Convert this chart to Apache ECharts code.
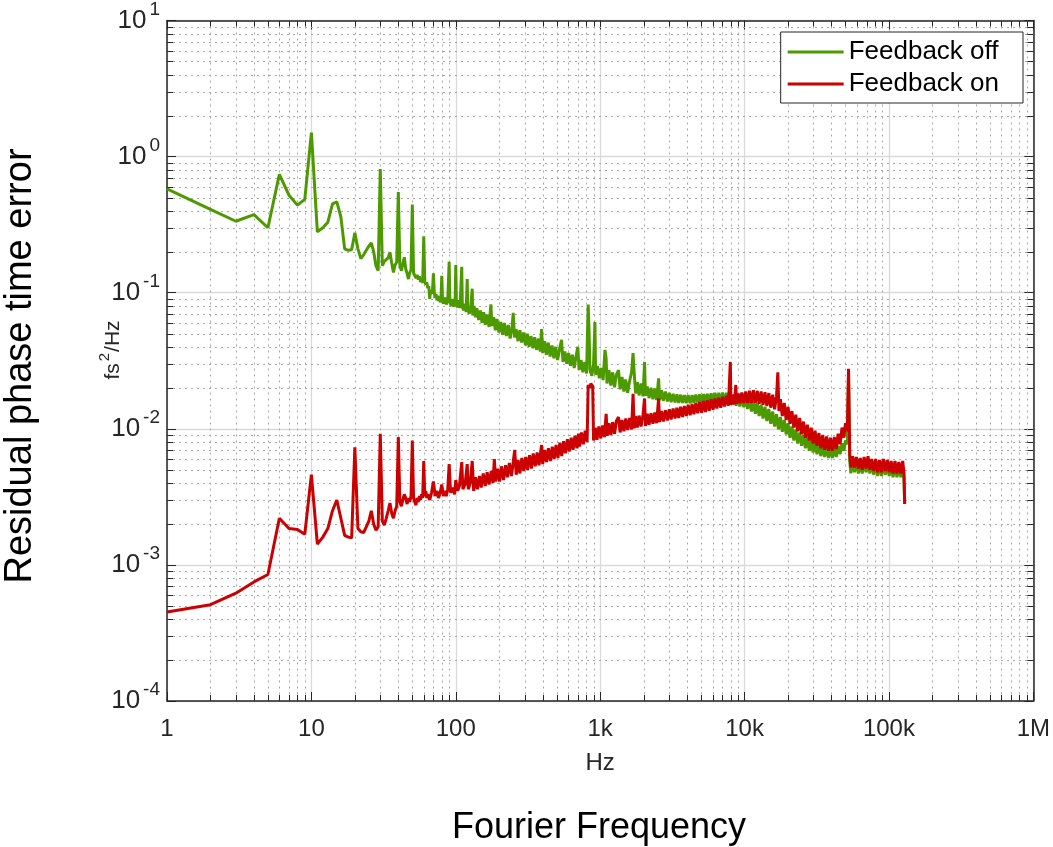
<!DOCTYPE html>
<html>
<head>
<meta charset="utf-8">
<script src="https://cdn.jsdelivr.net/npm/echarts@6/dist/echarts.min.js"></script>
<style>html,body{margin:0;padding:0;background:#fff}#c{width:1053px;height:847px}</style>
</head>
<body>
<div id="c"></div>
<script>
// ---- data ----
const seriesNames = ['Feedback off', 'Feedback on'];
const xTickLabels = {1:'1',10:'10',100:'100',1000:'1k',10000:'10k',100000:'100k',1000000:'1M'};
const feedbackOff = [[1,0.58],[2,0.41],[3,0.335],[4,0.375],[5,0.30],[6,0.74],[7,0.52],[8,0.44],[9,0.485],[10,1.50],[11,0.28],[12,0.30],[13,0.33],[14,0.45],[15,0.465],[16,0.36],[17,0.21],[18,0.205],[19,0.207],[20,0.275],[21,0.21],[22,0.178],[23,0.19],[24,0.205],[25,0.22],[26,0.232],[27,0.2],[28,0.158],[29,0.145],[30,0.81],[31,0.158],[32,0.17],[33,0.165],[34,0.18],[35,0.198],[36,0.165],[37,0.141],[38,0.16],[39,0.168],[40,0.55],[41,0.16],[42,0.145],[43,0.162],[44,0.182],[45,0.15],[46,0.138],[47,0.126],[48,0.14],[49,0.148],[50,0.445],[51,0.14],[52,0.137],[53,0.128],[54,0.135],[55,0.125],[56,0.132],[57,0.12],[58,0.126],[59,0.118],[60,0.26],[61,0.12],[62,0.115],[63,0.119],[64,0.108],[65,0.112],[66,0.09],[67,0.105],[68,0.098],[69,0.104],[70,0.139],[71,0.1],[72,0.092],[73,0.098],[74,0.088],[75,0.095],[76,0.087],[77,0.094],[78,0.085],[79,0.09],[80,0.133],[81,0.088],[82,0.083],[84,0.092],[86,0.082],[88,0.088],[90,0.169],[91,0.085],[93,0.08],[95,0.09],[97,0.079],[99,0.086],[100,0.16],[101,0.083],[103,0.078],[105,0.088],[107,0.077],[110,0.155],[111,0.08],[113,0.074],[116,0.083],[118,0.072],[120,0.126],[121,0.076],[124,0.07],[127,0.079],[130,0.107],[131,0.068],[134,0.080],[137,0.066],[140,0.077],[144,0.063],[148,0.074],[152,0.060],[156,0.072],[160,0.058],[165,0.069],[170,0.056],[175,0.082],[178,0.057],[183,0.066],[188,0.053],[193,0.064],[199,0.051],[205,0.061],[211,0.049],[217,0.060],[224,0.048],[231,0.058],[238,0.046],[245,0.055],[250,0.071],[255,0.047],[262,0.054],[270,0.044],[278,0.053],[286,0.043],[295,0.051],[304,0.041],[313,0.050],[322,0.040],[332,0.048],[342,0.039],[352,0.047],[363,0.038],[374,0.046],[385,0.037],[393,0.054],[400,0.036],[412,0.044],[424,0.035],[437,0.043],[450,0.034],[464,0.041],[478,0.033],[492,0.040],[507,0.032],[522,0.038],[540,0.045],[553,0.031],[570,0.037],[587,0.030],[605,0.036],[623,0.029],[642,0.035],[661,0.028],[681,0.034],[700,0.040],[715,0.027],[737,0.032],[759,0.026],[782,0.031],[805,0.0255],[826,0.082],[838,0.052],[850,0.027],[875,0.0245],[900,0.030],[920,0.061],[930,0.025],[958,0.029],[987,0.0235],[1017,0.028],[1048,0.0228],[1080,0.038],[1100,0.033],[1115,0.0215],[1150,0.027],[1185,0.0208],[1220,0.026],[1257,0.0202],[1295,0.025],[1340,0.027],[1375,0.0195],[1417,0.024],[1460,0.0188],[1500,0.023],[1550,0.0184],[1600,0.0225],[1650,0.026],[1690,0.036],[1720,0.026],[1760,0.0182],[1810,0.022],[1860,0.0176],[1920,0.0215],[1980,0.0173],[2030,0.031],[2060,0.0175],[2120,0.0205],[2180,0.0168],[2250,0.020],[2320,0.0165],[2390,0.0198],[2460,0.0163],[2540,0.0235],[2580,0.0162],[2660,0.0192],[2740,0.0161],[2830,0.0188],[2920,0.0159],[3010,0.0184],[3100,0.0157],[3200,0.0181],[3300,0.0156],[3400,0.0179],[3500,0.0155],[3610,0.0178],[3720,0.0155],[3830,0.0177],[3950,0.0154],[4070,0.0177],[4200,0.0154],[4330,0.0177],[4460,0.0155],[4600,0.0178],[4740,0.0156],[4890,0.0179],[5040,0.0156],[5200,0.018],[5360,0.0157],[5520,0.0181],[5690,0.0157],[5870,0.0182],[6050,0.0158],[6240,0.0184],[6430,0.0158],[6630,0.0184],[6840,0.0158],[7050,0.0185],[7270,0.0156],[7500,0.0184],[7730,0.0154],[7970,0.0182],[8220,0.0151],[8480,0.0179],[8740,0.0148],[9010,0.0176],[9290,0.0146],[9580,0.0173],[9880,0.0144],[10190,0.0168],[10500,0.014],[10830,0.0164],[11170,0.0134],[11520,0.016],[11880,0.0129],[12250,0.0155],[12630,0.0124],[13020,0.015],[13430,0.0119],[13850,0.0145],[14280,0.0114],[14730,0.014],[15190,0.0109],[15660,0.0134],[16150,0.0104],[16650,0.0128],[17170,0.0099],[17710,0.0122],[18260,0.0095],[18830,0.0116],[19420,0.0091],[20020,0.011],[20650,0.0086],[21290,0.0104],[21950,0.0082],[22640,0.0099],[23340,0.0078],[24070,0.0094],[24820,0.0075],[25600,0.009],[26400,0.0072],[27220,0.0086],[28070,0.0069],[28950,0.0083],[29850,0.0067],[30780,0.008],[31740,0.0065],[32730,0.0077],[33750,0.0063],[34800,0.0075],[35890,0.0062],[37010,0.0073],[38160,0.0061],[39350,0.0072],[40580,0.0061],[41840,0.0073],[43150,0.0062],[44490,0.0075],[45880,0.0065],[47310,0.0078],[48790,0.0069],[50000,0.0082],[51500,0.0077],[52500,0.025],[53500,0.0058],[54500,0.0047],[56000,0.006],[57700,0.0048],[59500,0.0058],[61400,0.0047],[63300,0.0057],[65300,0.0047],[67300,0.0058],[69400,0.0048],[71600,0.0059],[73800,0.0047],[76100,0.0056],[78500,0.0046],[81000,0.0056],[83500,0.0045],[86100,0.0055],[88800,0.0045],[91600,0.0056],[94400,0.0046],[97400,0.0055],[100400,0.0045],[103500,0.0054],[106800,0.0044],[110100,0.0054],[113600,0.0044],[117100,0.0053],[120800,0.0044],[124500,0.0052],[127000,0.0045],[128500,0.0028]];
const feedbackOn = [[1,4.5e-4],[2,5.1e-4],[3,6.2e-4],[4,7.5e-4],[5,8.5e-4],[6,2.2e-3],[7,1.85e-3],[8,1.82e-3],[9,1.68e-3],[10,4.6e-3],[11,1.42e-3],[12,1.6e-3],[13,1.85e-3],[14,2.5e-3],[15,3.0e-3],[16,2.2e-3],[17,1.65e-3],[18,1.6e-3],[19,1.58e-3],[20,7.3e-3],[21,1.85e-3],[22,1.75e-3],[23,1.73e-3],[24,1.9e-3],[25,2.1e-3],[26,2.5e-3],[27,2.0e-3],[28,1.8e-3],[29,1.9e-3],[30,9.2e-3],[31,2.1e-3],[32,1.96e-3],[33,2.2e-3],[34,2.5e-3],[35,2.85e-3],[36,2.4e-3],[37,2.2e-3],[38,2.5e-3],[39,2.7e-3],[40,8.7e-3],[41,2.9e-3],[42,2.7e-3],[43,3.0e-3],[44,3.3e-3],[45,3.1e-3],[46,2.8e-3],[47,3.1e-3],[48,2.9e-3],[49,3.2e-3],[50,8.2e-3],[51,3.1e-3],[52,2.9e-3],[53,2.75e-3],[54,3.1e-3],[55,2.9e-3],[56,3.2e-3],[57,3.0e-3],[58,3.3e-3],[59,3.1e-3],[60,5.8e-3],[61,3.2e-3],[62,3.5e-3],[63,3.1e-3],[64,3.3e-3],[66,3.0e-3],[68,3.4e-3],[70,4.1e-3],[72,3.2e-3],[74,3.5e-3],[76,3.1e-3],[78,3.4e-3],[80,3.9e-3],[82,3.2e-3],[84,3.5e-3],[86,3.2e-3],[88,3.6e-3],[90,5.5e-3],[92,3.4e-3],[95,3.7e-3],[98,3.3e-3],[100,4.2e-3],[103,3.5e-3],[106,3.8e-3],[110,5.7e-3],[112,3.6e-3],[116,3.9e-3],[120,5.5e-3],[122,3.6e-3],[126,4.0e-3],[130,5.8e-3],[133,3.5e-3],[137,4.4e-3],[141,3.6e-3],[146,4.5e-3],[150,3.7e-3],[155,4.7e-3],[160,3.8e-3],[165,4.8e-3],[170,3.9e-3],[176,4.9e-3],[181,4.0e-3],[185,6.0e-3],[189,4.1e-3],[195,5.1e-3],[201,4.1e-3],[207,5.3e-3],[214,4.2e-3],[221,5.4e-3],[228,4.4e-3],[235,5.6e-3],[243,4.5e-3],[250,5.7e-3],[256,7.0e-3],[262,4.6e-3],[270,5.9e-3],[278,4.7e-3],[287,6.1e-3],[296,4.9e-3],[305,6.2e-3],[314,5.0e-3],[324,6.4e-3],[334,5.1e-3],[344,6.6e-3],[355,5.3e-3],[366,6.7e-3],[377,5.4e-3],[393,7.6e-3],[400,5.5e-3],[412,7.0e-3],[425,5.7e-3],[438,7.2e-3],[452,5.8e-3],[466,7.4e-3],[480,6.0e-3],[495,7.6e-3],[510,6.1e-3],[526,7.9e-3],[542,6.3e-3],[558,8.1e-3],[575,6.6e-3],[593,8.4e-3],[611,6.8e-3],[630,8.6e-3],[649,7.0e-3],[669,8.9e-3],[690,7.2e-3],[708,9.2e-3],[720,7.4e-3],[742,9.4e-3],[765,7.7e-3],[788,9.7e-3],[812,8.0e-3],[826,0.021],[838,0.0215],[850,0.02],[862,0.0215],[875,0.021],[888,0.0205],[900,8.2e-3],[925,0.0102],[950,8.3e-3],[980,0.0104],[1010,8.5e-3],[1040,0.0106],[1070,8.7e-3],[1100,0.0129],[1120,8.9e-3],[1150,0.011],[1185,9.0e-3],[1220,0.0112],[1257,9.2e-3],[1295,0.0114],[1340,0.0122],[1375,9.4e-3],[1417,0.0116],[1460,9.6e-3],[1505,0.0119],[1550,9.8e-3],[1600,0.012],[1650,9.9e-3],[1690,0.0181],[1720,0.0101],[1760,0.0124],[1810,0.0102],[1860,0.0125],[1920,0.0104],[1980,0.0127],[2030,0.0167],[2060,0.0105],[2120,0.0129],[2180,0.0107],[2250,0.013],[2320,0.0109],[2390,0.0132],[2460,0.011],[2540,0.0167],[2580,0.0112],[2660,0.0135],[2740,0.0113],[2830,0.0137],[2920,0.0115],[3010,0.0139],[3100,0.0117],[3200,0.0141],[3300,0.0119],[3400,0.0143],[3500,0.012],[3610,0.0145],[3720,0.0122],[3830,0.0147],[3950,0.0124],[4070,0.015],[4200,0.0126],[4330,0.0152],[4460,0.0128],[4600,0.0155],[4740,0.013],[4890,0.0158],[5040,0.0131],[5200,0.016],[5360,0.0133],[5520,0.0162],[5690,0.0136],[5870,0.0165],[6050,0.0138],[6240,0.0167],[6430,0.0141],[6630,0.0169],[6840,0.0143],[7050,0.0172],[7270,0.0146],[7500,0.0175],[7730,0.0148],[7970,0.031],[8050,0.015],[8300,0.0178],[8500,0.0151],[8700,0.021],[8800,0.0153],[9050,0.0182],[9300,0.0154],[9580,0.0185],[9880,0.0155],[10190,0.0188],[10500,0.0155],[10830,0.019],[11170,0.0155],[11520,0.0192],[11880,0.0155],[12250,0.019],[12630,0.0153],[13020,0.0188],[13430,0.015],[13850,0.0186],[14280,0.0147],[14730,0.0183],[15190,0.0143],[15660,0.0178],[16150,0.0139],[16650,0.0173],[17000,0.026],[17300,0.0135],[17710,0.0165],[18260,0.0124],[18830,0.0155],[19420,0.0116],[20020,0.0145],[20650,0.0109],[21290,0.0135],[21950,0.0102],[22640,0.0127],[23340,0.0096],[24070,0.012],[24820,0.0091],[25600,0.0113],[26400,0.0086],[27220,0.0107],[28070,0.0082],[28950,0.0102],[29850,0.0078],[30780,0.0097],[31740,0.0075],[32730,0.0093],[33750,0.0072],[34800,0.009],[35890,0.007],[37010,0.0088],[38160,0.0069],[39350,0.0086],[40580,0.0069],[41840,0.0087],[43150,0.0071],[44490,0.0092],[45880,0.0077],[47310,0.0102],[48790,0.0086],[50000,0.011],[51500,0.0096],[52500,0.0276],[53500,0.0065],[54500,0.0052],[56000,0.0063],[57700,0.0052],[59500,0.0062],[61400,0.0051],[63300,0.0061],[65300,0.005],[67300,0.0062],[69400,0.0051],[71600,0.0063],[73800,0.005],[76100,0.006],[78500,0.0049],[81000,0.006],[83500,0.0048],[86100,0.0059],[88800,0.0048],[91600,0.006],[94400,0.0049],[97400,0.0059],[100400,0.0048],[103500,0.0058],[106800,0.0047],[110100,0.0058],[113600,0.0047],[117100,0.0057],[120800,0.0047],[124500,0.0058],[127000,0.0048],[128500,0.0028]];

// minor grid positions (2..9 within each decade)
const minorMultipliers = [2,3,4,5,6,7,8,9];
const minorX = [], minorY = [];
for (let d = 0; d < 6; d++) minorMultipliers.forEach(m => minorX.push([m * Math.pow(10, d), 1]));
for (let d = -4; d < 1; d++) minorMultipliers.forEach(m => minorY.push([1, m * Math.pow(10, d)]));

const FONT = 'Liberation Sans';
const AX = '#262626';
const chart = echarts.init(document.getElementById('c'), null, {renderer: 'canvas'});

const minorStyle = {stroke: '#a8a8a8', lineWidth: 1, lineDash: [2, 4]};
const tickStyle = {stroke: AX, lineWidth: 1};
const TL = 6;

chart.setOption({
  animation: false,
  backgroundColor: '#fff',
  grid: {left: 167, right: 18, top: 15.5, bottom: 146, containLabel: false},
  legend: {
    data: seriesNames,
    orient: 'vertical',
    right: 30, top: 32,
    backgroundColor: '#fff',
    borderColor: AX, borderWidth: 1,
    padding: [6, 24, 5, 7],
    itemGap: 4,
    itemWidth: 56, itemHeight: 3,
    icon: 'rect',
    textStyle: {fontFamily: FONT, fontSize: 26, color: '#000', lineHeight: 28}
  },
  xAxis: [{
    type: 'log', logBase: 10, min: 1, max: 1000000,
    name: 'Hz', nameLocation: 'middle', nameGap: 50,
    nameTextStyle: {fontFamily: FONT, fontSize: 24, color: AX},
    axisLine: {show: true, lineStyle: {color: AX, width: 1.5}},
    axisTick: {show: true, inside: true, length: 9, lineStyle: {color: AX}},
    axisLabel: {fontFamily: FONT, fontSize: 24, color: AX, margin: 16,
      formatter: v => xTickLabels[Math.round(v)] || ''},
    splitLine: {show: true, lineStyle: {color: '#d9d9d9', width: 1.3}},
    minorTick: {show: false}, minorSplitLine: {show: false}
  }, {
    type: 'log', logBase: 10, min: 1, max: 1000000, position: 'top',
    axisLine: {show: true, lineStyle: {color: AX, width: 1.5}},
    axisTick: {show: true, inside: true, length: 9, lineStyle: {color: AX}},
    axisLabel: {show: false}, splitLine: {show: false}
  }],
  yAxis: [{
    type: 'log', logBase: 10, min: 0.0001, max: 10,
    axisLine: {show: true, lineStyle: {color: AX, width: 1.5}},
    axisTick: {show: true, inside: true, length: 9, lineStyle: {color: AX}},
    axisLabel: {margin: 7, color: AX,
      formatter: v => '{b|10}{s|' + Math.round(Math.log10(v)) + '}',
      rich: {
        b: {fontFamily: FONT, fontSize: 26, color: AX, lineHeight: 28},
        s: {fontFamily: FONT, fontSize: 19, color: AX, lineHeight: 19, padding: [0, 0, 22, 3]}
      }},
    splitLine: {show: true, lineStyle: {color: '#d9d9d9', width: 1.3}}
  }, {
    type: 'log', logBase: 10, min: 0.0001, max: 10, position: 'right',
    axisLine: {show: true, lineStyle: {color: AX, width: 1.5}},
    axisTick: {show: true, inside: true, length: 9, lineStyle: {color: AX}},
    axisLabel: {show: false}, splitLine: {show: false}
  }],
  graphic: [{
    type: 'text', x: 21, y: 366, rotation: Math.PI / 2,
    style: {text: 'Residual phase time error', fontFamily: FONT, fontSize: 38, fill: '#000',
      textAlign: 'center', textVerticalAlign: 'middle'}
  }, {
    type: 'text', x: 113, y: 350, rotation: Math.PI / 2,
    style: {text: '{a|fs}{s|2}{a|/Hz}', textAlign: 'center', textVerticalAlign: 'middle',
      rich: {
        a: {fontFamily: FONT, fontSize: 21, fill: AX, lineHeight: 24},
        s: {fontFamily: FONT, fontSize: 15, fill: AX, lineHeight: 15, padding: [0, 1, 16, 2]}
      }}
  }, {
    type: 'text', x: 599, y: 828,
    style: {text: 'Fourier Frequency', fontFamily: FONT, fontSize: 36, fill: '#000',
      textAlign: 'center', textVerticalAlign: 'middle'}
  }],
  series: [{
    type: 'custom', name: 'minorX', xAxisIndex: 0, yAxisIndex: 0, z: 1, silent: true,
    data: minorX, encode: {x: 0, y: 1},
    renderItem: (params, api) => {
      const cs = params.coordSys;
      const x = Math.round(api.coord([api.value(0), 1])[0]) + 0.5;
      const b = cs.y + cs.height, t = cs.y;
      return {type: 'group', children: [
        {type: 'line', shape: {x1: x, y1: t, x2: x, y2: b}, style: minorStyle},
        {type: 'line', shape: {x1: x, y1: b, x2: x, y2: b - TL}, style: tickStyle},
        {type: 'line', shape: {x1: x, y1: t, x2: x, y2: t + TL}, style: tickStyle}
      ]};
    }
  }, {
    type: 'custom', name: 'minorY', xAxisIndex: 0, yAxisIndex: 0, z: 1, silent: true,
    data: minorY, encode: {x: 0, y: 1},
    renderItem: (params, api) => {
      const cs = params.coordSys;
      const y = Math.round(api.coord([1, api.value(1)])[1]) + 0.5;
      const l = cs.x, r = cs.x + cs.width;
      return {type: 'group', children: [
        {type: 'line', shape: {x1: l, y1: y, x2: r, y2: y}, style: minorStyle},
        {type: 'line', shape: {x1: l, y1: y, x2: l + TL, y2: y}, style: tickStyle},
        {type: 'line', shape: {x1: r, y1: y, x2: r - TL, y2: y}, style: tickStyle}
      ]};
    }
  }, {
    name: seriesNames[0], type: 'line', data: feedbackOff, showSymbol: false, z: 3,
    color: '#4d9a00', lineStyle: {width: 3, color: '#4d9a00'}
  }, {
    name: seriesNames[1], type: 'line', data: feedbackOn, showSymbol: false, z: 4,
    color: '#cc0000', lineStyle: {width: 3, color: '#cc0000'}
  }]
});
</script>
</body>
</html>
